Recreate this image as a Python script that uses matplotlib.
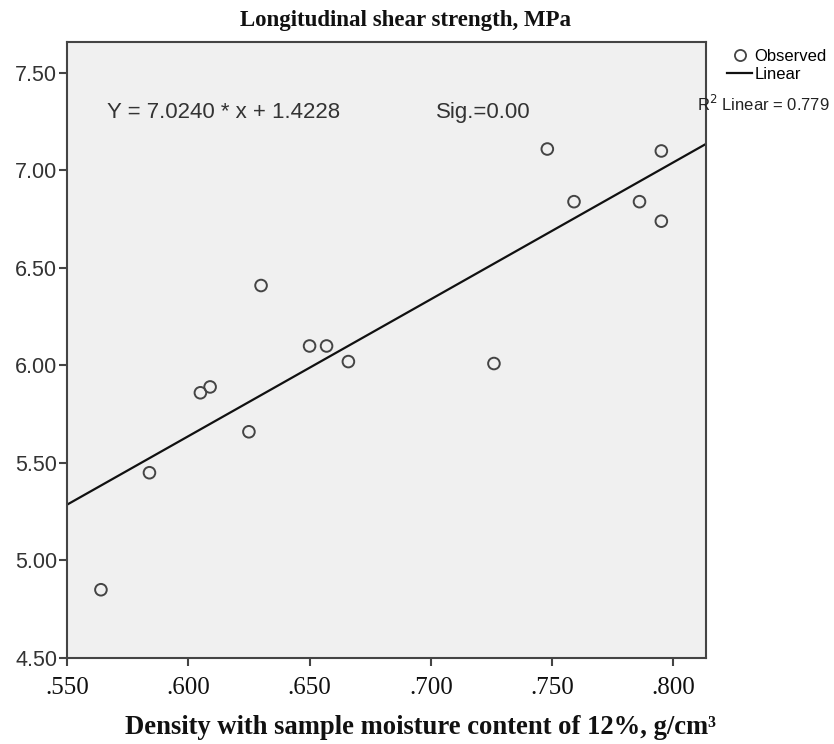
import matplotlib
matplotlib.use("Agg")
import matplotlib.pyplot as plt
import numpy as np
from matplotlib.lines import Line2D

# Data
density = [0.564, 0.584, 0.605, 0.609, 0.625, 0.630, 0.650, 0.657, 0.666,
           0.726, 0.748, 0.759, 0.786, 0.795, 0.795]
shear = [4.85, 5.45, 5.86, 5.89, 5.66, 6.41, 6.10, 6.10, 6.02,
         6.01, 7.11, 6.84, 6.84, 7.10, 6.74]
slope = 7.0240
intercept = 1.4228
r2 = 0.779
sig = 0.00

xticks = [0.55, 0.60, 0.65, 0.70, 0.75, 0.80]
xticklabels = [".550", ".600", ".650", ".700", ".750", ".800"]
yticks = [4.5, 5.0, 5.5, 6.0, 6.5, 7.0, 7.5]
yticklabels = ["4.50", "5.00", "5.50", "6.00", "6.50", "7.00", "7.50"]

fig = plt.figure(figsize=(8.34, 7.44), dpi=100)
ax = fig.add_axes([0.0803, 0.1156, 0.7662, 0.8280])
ax.set_facecolor("#f0f0f0")

ax.set_xlim(0.55, 0.8134)
ax.set_ylim(4.5, 7.659)

xl = np.array(ax.get_xlim())
ax.plot(xl, slope * xl + intercept, color="#111111", lw=1.6, zorder=2)
ax.scatter(density, shear, s=70, facecolors="none", edgecolors="#444444",
           linewidths=1.4, zorder=3)

for sp in ax.spines.values():
    sp.set_color("#444444")
    sp.set_linewidth(1.5)

ax.set_xticks(xticks)
ax.set_xticklabels(xticklabels, fontfamily="Liberation Serif", fontsize=18, color="#111111")
ax.set_yticks(yticks)
ax.set_yticklabels(yticklabels, fontfamily="Liberation Sans", fontsize=15.5, color="#333333")
ax.tick_params(axis="both", direction="out", length=6, width=1.5, color="#444444")
ax.tick_params(axis="x", pad=8)
ax.tick_params(axis="y", pad=1)

ax.text(0.063, 0.885, f"Y = {slope:.4f} * x + {intercept:.4f}", transform=ax.transAxes,
        fontfamily="Liberation Sans", fontsize=16, color="#333333", va="center")
ax.text(0.578, 0.885, f"Sig.={sig:.2f}", transform=ax.transAxes,
        fontfamily="Liberation Sans", fontsize=16, color="#333333", va="center")

fig.text(0.486, 0.973, "Longitudinal shear strength, MPa", ha="center", va="center",
         fontfamily="Liberation Serif", fontweight="bold", fontsize=16.5, color="#111111")
fig.text(0.504, 0.022, "Density with sample moisture content of 12%, g/cm³",
         ha="center", va="center", fontfamily="Liberation Serif", fontweight="bold",
         fontsize=19.2, color="#111111")

handles = [Line2D([], [], marker="o", ls="none", mfc="none", mec="#444444", mew=1.3, ms=8),
           Line2D([], [], color="#111111", lw=1.6)]
leg = fig.legend(handles, ["Observed", "Linear"], loc="upper left",
                 bbox_to_anchor=(0.862, 0.946), frameon=False,
                 prop={"family": "Liberation Sans", "size": 12},
                 handlelength=1.5, handletextpad=0.15, labelspacing=0.2, borderpad=0)
fig.text(0.836, 0.860, f"R$^2$ Linear = {r2:.3f}", fontfamily="Liberation Sans",
         fontsize=12, color="#222222", va="center")

fig.savefig("out.png", dpi=100)
